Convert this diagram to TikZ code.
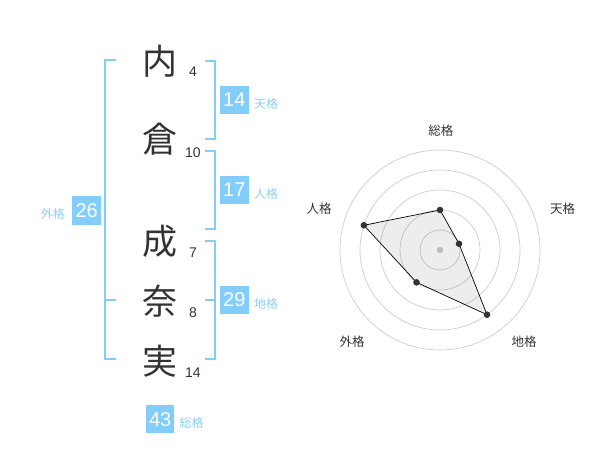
\documentclass[tikz,border=0pt]{standalone}
\usepackage{fontspec}
\setmainfont{Liberation Sans}
\newfontfamily\jp{Noto Sans CJK JP}
\begin{document}
\begin{tikzpicture}[x=1pt,y=1pt,
  kanji/.style={text=ink, font=\jp\fontsize{35}{35}\selectfont, inner sep=0pt},
  kakusu/.style={text=ink, font=\fontsize{14}{14}\selectfont, inner sep=0pt, anchor=base},
  sumbox/.style={fill=kaku, text=white, minimum size=28.5pt, inner sep=0pt, font=\fontsize{20}{20}\selectfont},
  sumlbl/.style={text=kakutext, font=\jp\fontsize{12}{12}\selectfont, inner sep=0pt},
  brace/.style={draw=kaku, line width=2pt},
  axislbl/.style={text=ink, font=\jp\fontsize{12.5}{12.5}\selectfont, inner sep=0pt}]
\definecolor{ink}{HTML}{333333}
\definecolor{kaku}{HTML}{82CDFA}
\definecolor{kakutext}{HTML}{8CCFF2}
\definecolor{ring}{HTML}{CCCCCC}
\useasboundingbox (0,0) rectangle (600,470);

% name and stroke counts
\node[kanji] (k1) at (160,409) {内};
\node[kanji] (k2) at (160,331) {倉};
\node[kanji] (k3) at (160,228.5) {成};
\node[kanji] (k4) at (160,169) {奈};
\node[kanji] (k5) at (160,108.5) {実};
\node[kakusu] (n1) at (193,393.3) {4};
\node[kakusu] (n2) at (193,312.3) {10};
\node[kakusu] (n3) at (193,212.7) {7};
\node[kakusu] (n4) at (193,152.7) {8};
\node[kakusu] (n5) at (193,92) {14};

% brackets
\draw[brace](205,409) -- (215,409) -- (215,330.7) -- (205,330.7);
\draw[brace](205,319.3) -- (215,319.3) -- (215,240.7) -- (205,240.7);
\draw[brace](205,229.3) -- (215,229.3) -- (215,110.7) -- (205,110.7);
\draw[brace](205,170) -- (215,170);
\draw[brace](116,410) -- (105,410) -- (105,110.7) -- (116,110.7);
\draw[brace](105,170) -- (116,170);

% sums
\node[sumbox] (ten) at (234.3,370) {14};
\node[sumlbl, anchor=west] at (254,366) {天格};
\node[sumbox] (jin) at (234.3,280) {17};
\node[sumlbl, anchor=west] at (254,276) {人格};
\node[sumbox] (chi) at (234.3,170) {29};
\node[sumlbl, anchor=west] at (254,166) {地格};
\node[sumbox] (gai) at (86.7,259.5) {26};
\node[sumlbl, anchor=east] at (65,256.5) {外格};
\node[sumbox] (sou) at (160.2,50.8) {43};
\node[sumlbl, anchor=west] at (179.3,47.5) {総格};

% radar
\begin{scope}[shift={(440,220)}]
\foreach \r in {20,40,60,80,100}
  \draw[ring, line width=0.7pt] (0,0) circle (\r);
\fill[ring] (0,0) circle (3.3);
\coordinate (p1) at (90:40);
\coordinate (p2) at (18:20);
\coordinate (p3) at (-54:80);
\coordinate (p4) at (-126:40);
\coordinate (p5) at (162:80);
\draw[fill=black, fill opacity=0.07, draw opacity=1, draw=black, line width=0.7pt]
  (p1) -- (p2) -- (p3) -- (p4) -- (p5) -- cycle;
\foreach \p in {p1,p2,p3,p4,p5}
  \fill[ink] (\p) circle (3.3);
\end{scope}

\node[axislbl] at (440.8,339.5) {総格};
\node[axislbl] at (562.5,261.3) {天格};
\node[axislbl] at (524.2,128) {地格};
\node[axislbl] at (352,128) {外格};
\node[axislbl] at (319.2,261.3) {人格};
\end{tikzpicture}
\end{document}
